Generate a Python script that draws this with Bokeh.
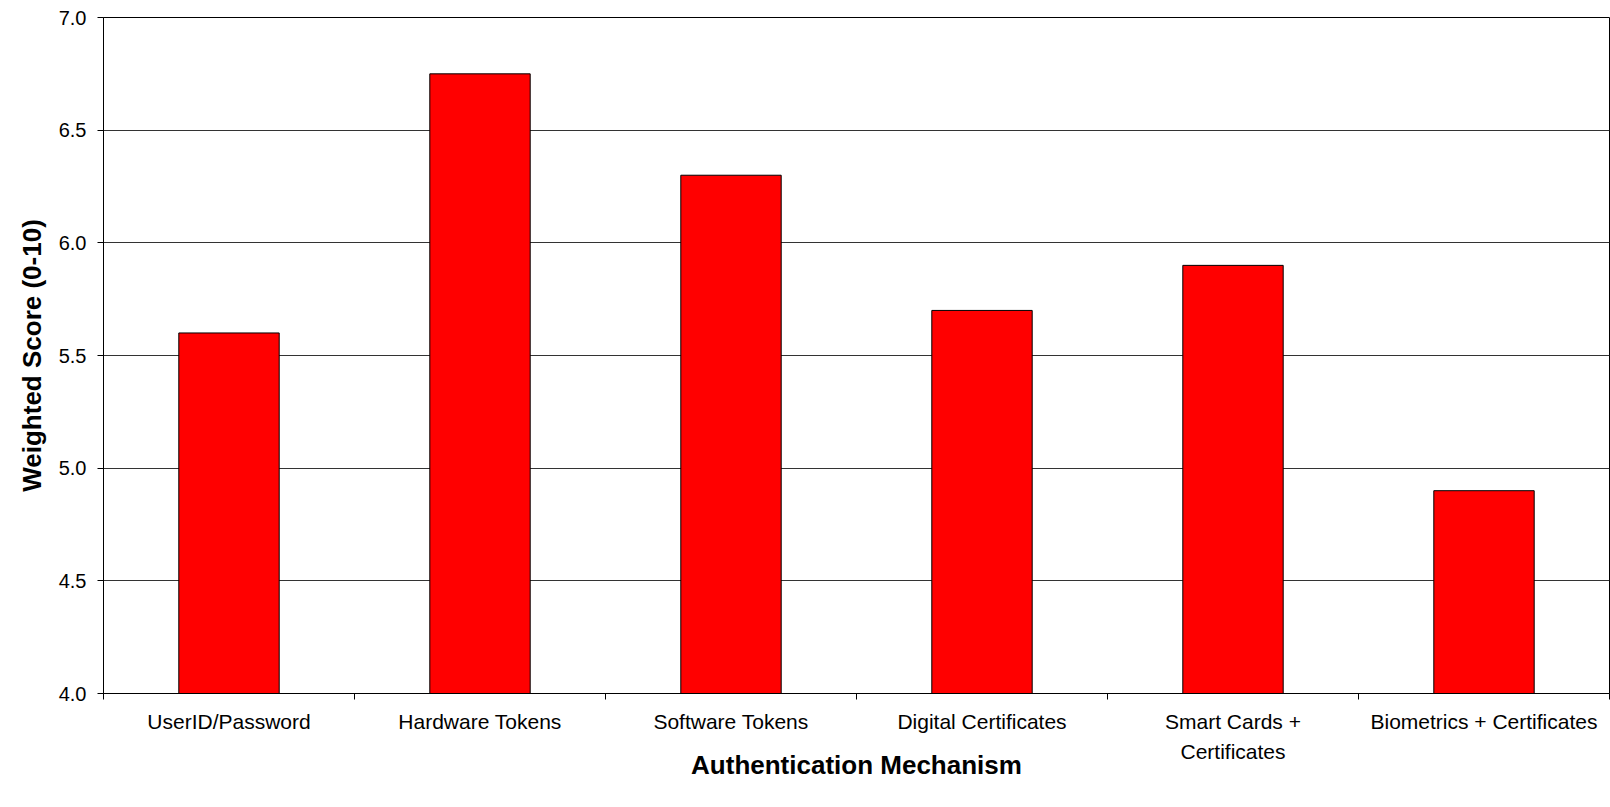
from bokeh.plotting import figure
from bokeh.models import Range1d, FixedTicker, NumeralTickFormatter, LinearAxis
from bokeh.embed import file_html
from bokeh.resources import INLINE

# ---- data ----
categories = ["UserID/Password", "Hardware Tokens", "Software Tokens",
              "Digital Certificates", "Smart Cards +\nCertificates",
              "Biometrics + Certificates"]
scores = [5.6, 6.75, 6.3, 5.7, 5.9, 4.9]
y_ticks = [4.0, 4.5, 5.0, 5.5, 6.0, 6.5, 7.0]
x_title = "Authentication Mechanism"
y_title = "Weighted Score (0-10)"

FONT = "Liberation Sans"
n = len(categories)
centers = [i + 0.5 for i in range(n)]
bounds = [float(i) for i in range(n + 1)]

p = figure(width=1610, height=807, output_backend="svg", toolbar_location=None,
           x_range=Range1d(0, n), y_range=Range1d(y_ticks[0], y_ticks[-1]),
           x_axis_type=None, min_border_left=103, min_border_right=1,
           min_border_top=17, min_border_bottom=114)
p.background_fill_color = "white"
p.border_fill_color = "white"
p.outline_line_color = "black"
p.outline_line_width = 1

p.vbar(x=centers, top=scores, bottom=y_ticks[0], width=0.4,
       fill_color="#FF0000", line_color="black", line_width=1)

# x axis: labels at category centers, tick marks at category boundaries
xaxis = LinearAxis(ticker=FixedTicker(ticks=centers, minor_ticks=bounds))
xaxis.major_label_overrides = {c: lab for c, lab in zip(centers, categories)}
xaxis.major_tick_out = 0
xaxis.major_tick_in = 0
xaxis.minor_tick_out = 6
xaxis.minor_tick_in = 0
xaxis.minor_tick_line_color = "black"
xaxis.axis_line_color = "black"
xaxis.major_label_text_font = FONT
xaxis.major_label_text_font_size = "21px"
xaxis.major_label_text_color = "black"
xaxis.major_label_text_line_height = 1.33
xaxis.major_label_standoff = 10
xaxis.axis_label = x_title
xaxis.axis_label_text_font = FONT
xaxis.axis_label_text_font_size = "26px"
xaxis.axis_label_text_font_style = "bold"
xaxis.axis_label_text_color = "black"
xaxis.axis_label_standoff = -16
p.add_layout(xaxis, "below")

yaxis = p.yaxis[0]
yaxis.ticker = FixedTicker(ticks=y_ticks)
yaxis.formatter = NumeralTickFormatter(format="0.0")
yaxis.major_tick_out = 6
yaxis.major_tick_in = 0
yaxis.minor_tick_line_color = None
yaxis.axis_line_color = "black"
yaxis.major_tick_line_color = "black"
yaxis.major_label_text_font = FONT
yaxis.major_label_text_font_size = "20px"
yaxis.major_label_text_color = "black"
yaxis.major_label_standoff = 11
yaxis.axis_label = y_title
yaxis.axis_label_text_font = FONT
yaxis.axis_label_text_font_size = "26px"
yaxis.axis_label_text_font_style = "bold"
yaxis.axis_label_text_color = "black"
yaxis.axis_label_standoff = 9

p.xgrid.grid_line_color = None
p.ygrid.ticker = FixedTicker(ticks=y_ticks)
p.ygrid.grid_line_color = "#333333"
p.ygrid.grid_line_width = 1

open("out.html", "w").write(file_html(p, INLINE))
